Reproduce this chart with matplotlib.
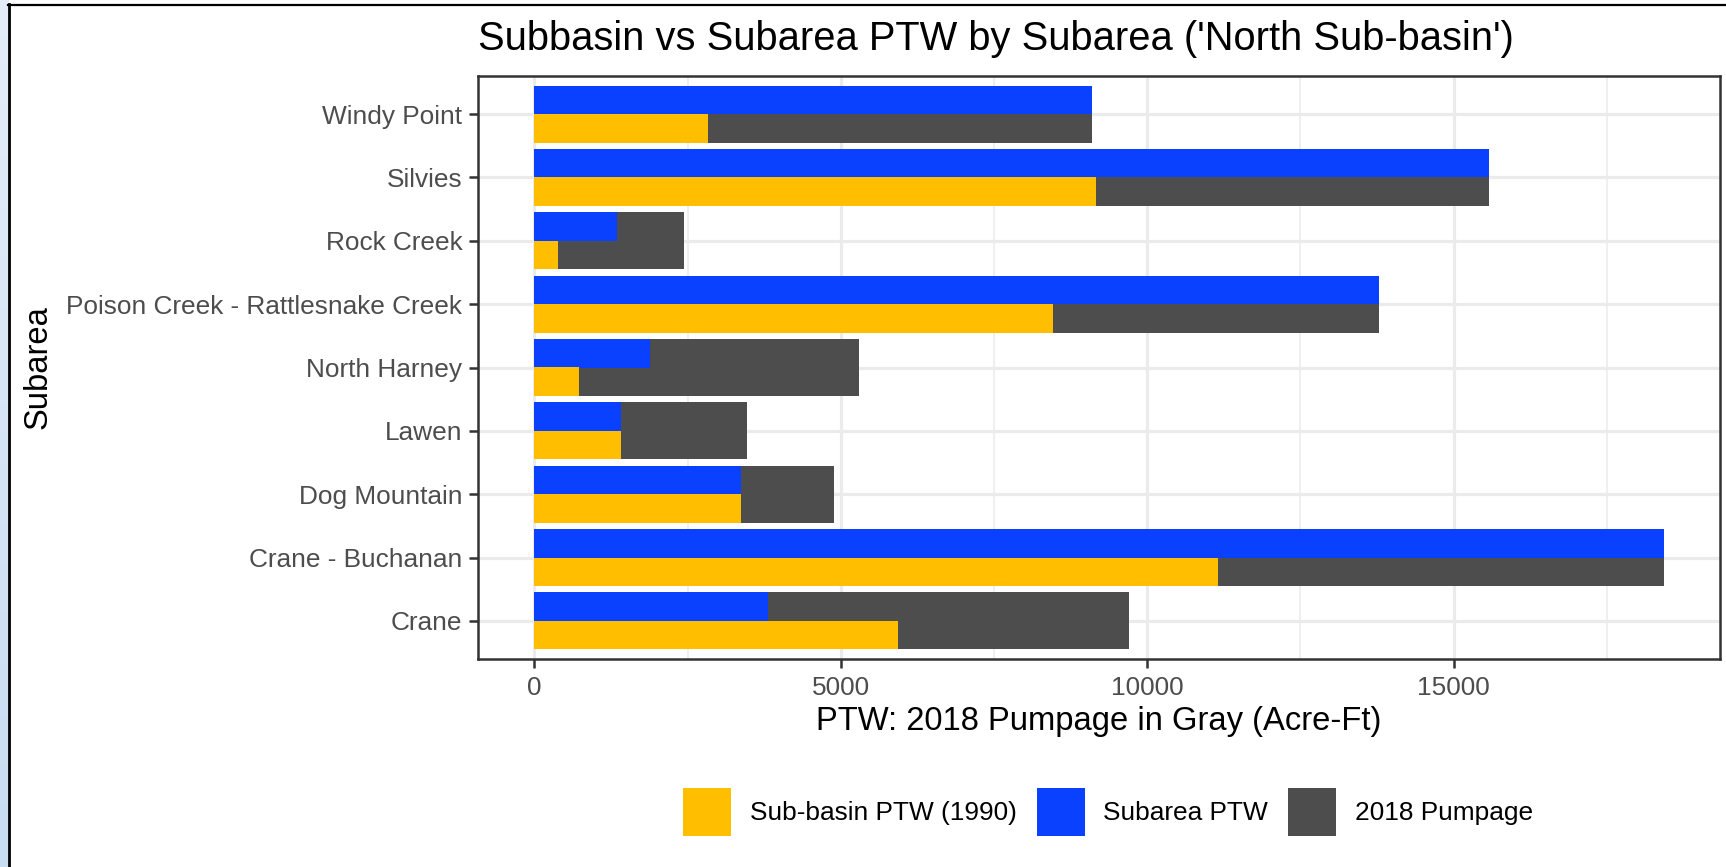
import numpy as np
import matplotlib
matplotlib.use("Agg")
import matplotlib.pyplot as plt
from matplotlib.patches import Patch
from matplotlib.lines import Line2D

# ---------------- data ----------------
subareas = ["Crane", "Crane - Buchanan", "Dog Mountain", "Lawen", "North Harney",
            "Poison Creek - Rattlesnake Creek", "Rock Creek", "Silvies", "Windy Point"]
subbasin_ptw = [5930, 11150, 3367, 1412, 731, 8459, 391, 9158, 2829]
subarea_ptw = [3816, 18427, 3367, 1412, 1879, 13783, 1341, 15577, 9104]
pumpage_2018 = [9695, 18427, 4891, 3474, 5303, 13783, 2435, 15577, 9104]
legend_labels = ["Sub-basin PTW (1990)", "Subarea PTW", "2018 Pumpage"]
x_major = [0, 5000, 10000, 15000]
x_minor = [2500, 7500, 12500, 17500]
title = "Subbasin vs Subarea PTW by Subarea ('North Sub-basin')"
xlabel = "PTW: 2018 Pumpage in Gray (Acre-Ft)"
ylabel = "Subarea"

YELLOW = "#FFBF00"
BLUE = "#0A40FF"
GRAY = "#4D4D4D"
GRID = "#EBEBEB"

plt.rcParams['font.family'] = ['Liberation Sans', 'DejaVu Sans']

W, H = 1726, 867
fig = plt.figure(figsize=(W / 100, H / 100), dpi=100)
fig.patch.set_facecolor("white")

L, R, T, B = 478, 1720, 76, 659
ax = fig.add_axes([L / W, 1 - B / H, (R - L) / W, (B - T) / H])

y = np.arange(len(subareas))
bw = 0.9
ax.barh(y, pumpage_2018, height=bw, color=GRAY, zorder=2, linewidth=0)
ax.barh(y + bw / 4, subarea_ptw, height=bw / 2, color=BLUE, zorder=3, linewidth=0)
ax.barh(y - bw / 4, subbasin_ptw, height=bw / 2, color=YELLOW, zorder=3, linewidth=0)

xmax = max(max(pumpage_2018), max(subarea_ptw), max(subbasin_ptw))
ax.set_xlim(-0.05 * xmax, 1.05 * xmax)
ax.set_ylim(-0.6, len(subareas) - 0.4)

ax.set_yticks(y)
ax.set_yticklabels(subareas)
ax.set_xticks(x_major)
ax.set_xticklabels([str(v) for v in x_major])
ax.set_xticks(x_minor, minor=True)

ax.set_axisbelow(True)
ax.grid(which='major', color=GRID, linewidth=2.3)
ax.grid(which='minor', axis='x', color=GRID, linewidth=1.15)

for s in ax.spines.values():
    s.set_color("#333333")
    s.set_linewidth(1.8)

ax.tick_params(axis='both', which='major', length=6.3, width=1.8, color='#333333',
               labelcolor='#4D4D4D', labelsize=18.9)
ax.tick_params(axis='y', which='major', pad=5)
ax.tick_params(axis='x', which='major', pad=6)
ax.tick_params(axis='x', which='minor', length=0)

ax.set_title(title, loc='left', fontsize=28.7, pad=18.7, color='black')

ax.set_xlabel(xlabel, fontsize=23.6, color='black')
ax.xaxis.set_label_coords(0.5, (B - 730) / (B - T))
ax.xaxis.label.set_va('baseline')

ax.set_ylabel(ylabel, fontsize=23.6, color='black')
ax.yaxis.set_label_coords((38.5 - L) / (R - L), 0.5)
ax.yaxis.label.set_va('center')

handles = [Patch(facecolor=YELLOW, linewidth=0), Patch(facecolor=BLUE, linewidth=0),
           Patch(facecolor=GRAY, linewidth=0)]
fig.legend(handles, legend_labels, loc='center', bbox_to_anchor=(1108 / W, 1 - 812 / H),
           ncol=3, frameon=False, fontsize=18.9, handlelength=1.83, handleheight=2.43,
           handletextpad=0.72, columnspacing=0.74, borderpad=0, borderaxespad=0)

# screenshot decorations: light-blue strip on the left and black frame lines
sax = fig.add_axes([0, 0, 8 / W, 1])
grad = np.linspace(0, 1, 256).reshape(-1, 1)
from matplotlib.colors import LinearSegmentedColormap
cmap = LinearSegmentedColormap.from_list("strip", ["#E4EDF8", "#C8DCF2"])
sax.imshow(grad, aspect='auto', cmap=cmap, extent=[0, 1, 0, 1], origin='upper')
sax.set_axis_off()
fig.add_artist(Line2D([9.2 / W, 9.2 / W], [0, 1 - 4 / H], color='black', lw=2.0,
                      transform=fig.transFigure))
fig.add_artist(Line2D([8 / W, 1], [1 - 5 / H, 1 - 5 / H], color='black', lw=1.6,
                      transform=fig.transFigure))

fig.savefig("out.png", dpi=100)
